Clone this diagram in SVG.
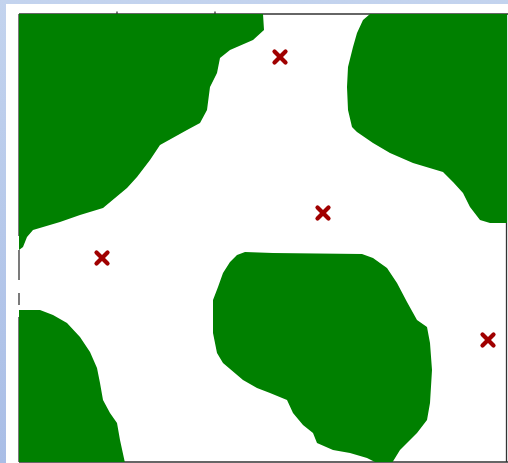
<svg xmlns="http://www.w3.org/2000/svg" width="508" height="463" viewBox="0 0 508 463">
<defs>
<linearGradient id="bg" x1="0" y1="0" x2="0" y2="1">
<stop offset="0" stop-color="#c3d3ee"/>
<stop offset="1" stop-color="#a9bde6"/>
</linearGradient>
<clipPath id="plot"><rect x="19" y="14" width="488" height="448"/></clipPath>
<style>
.blob{fill:#008000;stroke:none}
.frame{stroke:#333;stroke-width:1.3;fill:none}
.mk{stroke:#a00000;stroke-width:4.2;stroke-linecap:round}
</style>
</defs>
<rect x="0" y="0" width="508" height="463" fill="url(#bg)"/>
<rect x="6" y="4" width="502" height="459" fill="#ffffff"/>
<g id="frame">
<line class="frame" x1="19" y1="14" x2="508" y2="14"/>
<line class="frame" x1="19" y1="14" x2="19" y2="236"/>
<line class="frame" x1="19" y1="250" x2="19" y2="280"/>
<line class="frame" x1="19" y1="293" x2="19" y2="305"/>
<line class="frame" x1="19" y1="317" x2="19" y2="462"/>
<line class="frame" x1="19" y1="462" x2="508" y2="462"/>
<line class="frame" x1="506.5" y1="14" x2="506.5" y2="462"/>
<line class="frame" x1="117" y1="11.5" x2="117" y2="14"/>
<line class="frame" x1="215" y1="11.5" x2="215" y2="14"/>
</g>
<g id="regions" clip-path="url(#plot)">
<path id="blob-top-left" class="blob" d="M19,14 L263,14 L264,30 L253,40 L230,50 L220,58 L217,73 L210,87 L207,110 L200,123 L187,130 L160,145 L150,160 L137,177 L127,188 L103,208 L80,215 L60,222 L33,230 L27,237 L23,247 L19,250 Z"/>
<path id="blob-top-right" class="blob" d="M370,14 L508,14 L508,223 L490,223 L480,220 L470,207 L463,193 L453,182 L443,172 L413,163 L390,153 L373,143 L357,132 L352,127 L348,110 L347,87 L348,67 L353,47 L357,33 L363,20 Z"/>
<path id="blob-middle" class="blob" d="M245,252 L273,253 L362,254 L373,258 L387,268 L397,283 L407,302 L417,320 L427,327 L430,343 L432,370 L430,403 L427,420 L417,433 L400,450 L392,463 L377,463 L367,458 L350,453 L333,450 L317,443 L313,433 L303,425 L293,413 L287,400 L270,393 L257,388 L243,380 L223,363 L217,353 L213,333 L213,300 L218,287 L223,273 L230,262 L237,255 Z"/>
<path id="blob-bottom-left" class="blob" d="M19,310 L40,310 L53,315 L67,323 L80,337 L90,352 L97,368 L100,383 L103,400 L110,413 L117,423 L120,440 L125,463 L19,463 Z"/>
</g>
<g id="markers">
<g id="m1" transform="translate(280,57)"><line class="mk" x1="-5.5" y1="-5.5" x2="5.5" y2="5.5"/><line class="mk" x1="5.5" y1="-5.5" x2="-5.5" y2="5.5"/></g>
<g id="m2" transform="translate(323,213)"><line class="mk" x1="-5.5" y1="-5.5" x2="5.5" y2="5.5"/><line class="mk" x1="5.5" y1="-5.5" x2="-5.5" y2="5.5"/></g>
<g id="m3" transform="translate(102,258)"><line class="mk" x1="-5.5" y1="-5.5" x2="5.5" y2="5.5"/><line class="mk" x1="5.5" y1="-5.5" x2="-5.5" y2="5.5"/></g>
<g id="m4" transform="translate(488,340)"><line class="mk" x1="-5.5" y1="-5.5" x2="5.5" y2="5.5"/><line class="mk" x1="5.5" y1="-5.5" x2="-5.5" y2="5.5"/></g>
</g>
</svg>
